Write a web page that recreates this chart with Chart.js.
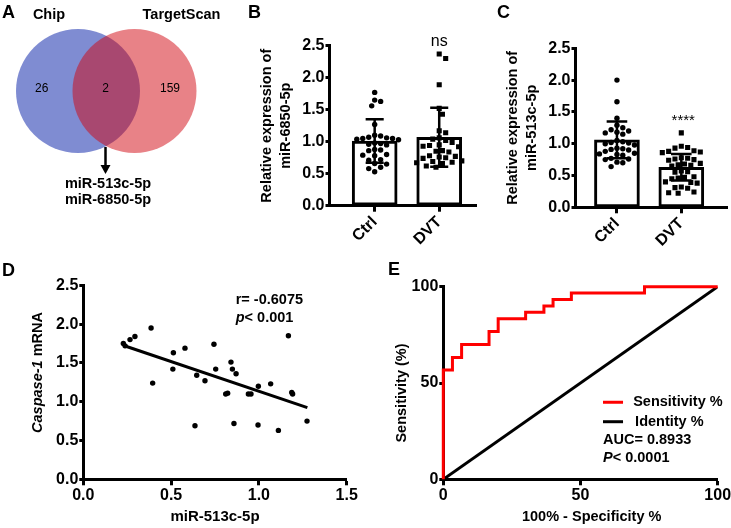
<!DOCTYPE html>
<html>
<head>
<meta charset="utf-8">
<script src="https://cdn.jsdelivr.net/npm/chart.js@4.4.0/dist/chart.umd.min.js"></script>
<style>
  body { margin: 0; background: #fff; }
  #wrap { position: relative; width: 731px; height: 528px; overflow: hidden; font-family: "Liberation Sans", Arial, sans-serif; }
  canvas { position: absolute; }
  .tag { position: absolute; font-weight: bold; font-size: 18px; line-height: 1; color: #000; }
</style>
</head>
<body>
<div id="wrap">
  <canvas id="cA" width="230" height="250" style="left:0;top:0"></canvas>
  <canvas id="cB" width="250" height="250" style="left:230px;top:0"></canvas>
  <canvas id="cC" width="251" height="250" style="left:480px;top:0"></canvas>
  <canvas id="cD" width="370" height="278" style="left:0;top:250px"></canvas>
  <canvas id="cE" width="361" height="278" style="left:370px;top:250px"></canvas>
  <div class="tag" style="left:2px;top:3px">A</div>
  <div class="tag" style="left:248px;top:3px">B</div>
  <div class="tag" style="left:497px;top:3px">C</div>
  <div class="tag" style="left:2px;top:261px">D</div>
  <div class="tag" style="left:388px;top:260px">E</div>
</div>
<script>
// ---- data ----
// A: Venn
const vennSets = ['Chip', 'TargetScan'];
const vennCounts = [26, 2, 159];          // only Chip, both, only TargetScan
const vennHits = ['miR-513c-5p', 'miR-6850-5p'];

// B / C: groups
const groups = ['Ctrl', 'DVT'];

// B: miR-6850-5p
const b6850Ctrl = [1.77, 1.65, 1.63, 1.56, 1.27, 1.10, 1.09, 1.07, 1.06, 1.05, 1.05, 1.04, 1.03, 0.98, 0.97,
                   0.96, 0.95, 0.88, 0.87, 0.86, 0.80, 0.79, 0.78, 0.72, 0.71, 0.66, 0.65, 0.60, 0.58, 0.53];
const b6850Dvt = [2.37, 2.30, 1.89, 1.52, 1.43, 1.17, 1.14, 1.06, 1.04, 1.02, 0.99, 0.95, 0.94, 0.93, 0.92,
                  0.86, 0.85, 0.84, 0.78, 0.77, 0.76, 0.75, 0.74, 0.70, 0.69, 0.68, 0.67, 0.66, 0.62, 0.60];
const b6850Mean = [1.01, 1.07];
const b6850Sd = [0.34, 0.46];

// C: miR-513c-5p
const c513Ctrl = [2.00, 1.66, 1.40, 1.29, 1.25, 1.22, 1.20, 1.18, 1.17, 1.15, 1.05, 1.03, 1.02, 1.01, 1.00, 0.98,
                  0.93, 0.92, 0.91, 0.90, 0.88, 0.85, 0.84, 0.83, 0.82, 0.77, 0.76, 0.75, 0.71, 0.70, 0.64];
const c513Dvt = [1.17, 0.96, 0.94, 0.93, 0.89, 0.88, 0.87, 0.86, 0.78, 0.77, 0.76, 0.75, 0.74, 0.69, 0.68, 0.67,
                 0.66, 0.65, 0.57, 0.56, 0.55, 0.48, 0.47, 0.46, 0.45, 0.40, 0.39, 0.38, 0.32, 0.31, 0.30, 0.24, 0.23, 0.22];
const c513Mean = [1.06, 0.63];
const c513Sd = [0.29, 0.21];

// D: correlation
const dX = [0.228, 0.238, 0.266, 0.294, 0.386, 0.395, 0.513, 0.510, 0.579, 0.636, 0.646, 0.693, 0.744, 0.754, 0.811,
            0.822, 0.841, 0.849, 0.858, 0.870, 0.940, 0.955, 0.997, 0.995, 1.067, 1.111, 1.168, 1.187, 1.192, 1.274];
const dY = [1.75, 1.72, 1.80, 1.84, 1.95, 1.24, 1.63, 1.42, 1.69, 0.69, 1.34, 1.27, 1.74, 1.42, 1.10,
            1.11, 1.51, 1.42, 0.72, 1.36, 1.10, 1.10, 1.20, 0.70, 1.23, 0.63, 1.85, 1.12, 1.10, 0.75];
const fitX = [0.238, 1.276];
const fitY = [1.718, 0.923];

// E: ROC
const rocX = [0, 0, 3.33, 6.67, 16.67, 20, 30, 36.67, 40, 46.67, 73.33, 100];
const rocY = [0, 56.7, 63.3, 70, 76.7, 83.3, 86.7, 90, 93.3, 96.7, 100, 100];
const identX = [0, 100];
const identY = [0, 100];

// ---- helpers ----
const FONT = '"Liberation Sans", Arial, sans-serif';
const tickFont = {family: FONT, size: 16, weight: 'bold'};
const titleFont = {family: FONT, size: 14.5, weight: 'bold', lineHeight: 1.35};
Chart.defaults.font.family = FONT;
Chart.defaults.color = '#000';

// free text, lines and arrows drawn on top of a chart
const notes = {
  id: 'notes',
  afterDraw(chart, args, opts) {
    const ctx = chart.ctx;
    const px = (it, k) => it[k + 'v'] !== undefined ? chart.scales[k].getPixelForValue(it[k + 'v']) : it[k];
    (opts.lines || []).forEach(l => {
      ctx.save();
      ctx.strokeStyle = l.color;
      ctx.lineWidth = l.width || 3;
      ctx.beginPath();
      ctx.moveTo(chart.scales.x.getPixelForValue(l.x0), chart.scales.y.getPixelForValue(l.y));
      ctx.lineTo(chart.scales.x.getPixelForValue(l.x1), chart.scales.y.getPixelForValue(l.y));
      ctx.stroke();
      ctx.restore();
    });
    (opts.items || []).forEach(it => {
      ctx.save();
      ctx.translate(px(it, 'x'), px(it, 'y'));
      if (it.rotate) ctx.rotate(it.rotate);
      ctx.fillStyle = '#000';
      ctx.textBaseline = 'middle';
      ctx.textAlign = 'left';
      const parts = it.parts || [{text: it.text}];
      const fontOf = p => (p.italic ? 'italic ' : '') + (it.bold === false ? 'normal ' : 'bold ') + (it.size || 14.5) + 'px ' + FONT;
      let total = 0;
      parts.forEach(p => { ctx.font = fontOf(p); total += ctx.measureText(p.text).width; });
      let cx = it.align === 'center' ? -total / 2 : 0;
      parts.forEach(p => { ctx.font = fontOf(p); ctx.fillText(p.text, cx, 0); cx += ctx.measureText(p.text).width; });
      ctx.restore();
    });
  }
};

function axis(o) {
  return {
    type: 'linear', min: o.min, max: o.max, offset: false,
    ticks: {stepSize: o.step, callback: o.cb, font: tickFont, color: '#000', padding: o.pad,
            minRotation: o.rot || 0, maxRotation: o.rot || 0, autoSkip: false},
    grid: {drawOnChartArea: false, drawTicks: true, tickLength: o.tl, tickWidth: 3, tickColor: '#000', color: '#000', offset: false},
    border: {display: true, color: '#000', width: 3},
    title: o.title || {display: false},
    afterBuildTicks: o.ticksAt ? (s => { s.ticks = o.ticksAt.map(v => ({value: v})); }) : undefined,
    afterFit: s => {
      if (o.w !== undefined) s.width = o.w;
      if (o.h !== undefined) s.height = o.h;
      s.paddingLeft = s.paddingRight = s.paddingTop = s.paddingBottom = 0;
    }
  };
}

// spread points sideways so they do not overlap (beeswarm)
function swarm(values, center, pxX, pxY, gap) {
  const placed = [];
  const order = values.map((v, i) => i).sort((a, b) => values[b] - values[a]);
  return order.map(i => {
    const v = values[i];
    let off = 0;
    for (let k = 0; k < 80; k++) {
      const cand = (k % 2 ? 1 : -1) * Math.ceil(k / 2) * gap / 2;
      if (placed.every(p => Math.hypot(cand - p.o, (v - p.v) * pxY) >= gap)) { off = cand; break; }
    }
    placed.push({o: off, v});
    return {x: center + off / pxX, y: v};
  });
}

function errBars(mean, sd, cap) {
  return mean.map((m, i) => {
    const g = i + 1, hi = m + sd[i], lo = m - sd[i];
    return {type: 'scatter', showLine: true, borderColor: '#000', borderWidth: 2.5, pointRadius: 0,
            data: [{x: g - cap, y: hi}, {x: g + cap, y: hi}, {x: g, y: hi}, {x: g, y: lo}, {x: g - cap, y: lo}, {x: g + cap, y: lo}]};
  });
}

function dotBar(id, ctrl, dvt, mean, sd, L) {
  const cv = document.getElementById(id);
  const pxX = (cv.width - L.yw - L.right) / (L.xmax - L.xmin);
  const pxY = (cv.height - L.top - L.xh) / 2.5;
  new Chart(cv, {
    type: 'scatter',
    data: {
      datasets: [
        {data: swarm(ctrl, 1, pxX, pxY, 6), pointStyle: 'circle', pointRadius: 2.7, backgroundColor: '#000', borderWidth: 0},
        {data: swarm(dvt, 2, pxX, pxY, 6.5), pointStyle: 'rect', pointRadius: 3.6, backgroundColor: '#000', borderWidth: 0},
        ...errBars(mean, sd, L.cap),
        {type: 'bar', data: mean.map((m, i) => ({x: i + 1, y: m})), backgroundColor: '#fff', borderColor: '#000',
         borderWidth: 3, barThickness: 45, borderSkipped: false}
      ]
    },
    options: {
      responsive: false, animation: false, devicePixelRatio: 1,
      layout: {padding: {top: L.top, right: L.right, left: 0, bottom: 0}},
      plugins: {legend: {display: false}, tooltip: {enabled: false},
                notes: {items: [{text: L.mark, xv: 2 + (L.markDx || 0), yv: L.markY, align: 'center', size: L.markSize, bold: false}]}},
      scales: {
        x: axis({min: L.xmin, max: L.xmax, ticksAt: [1, 2], cb: (v, i) => groups[i], rot: 45, tl: 6, pad: 1, h: L.xh}),
        y: axis({min: 0, max: 2.5, step: 0.5, cb: v => v.toFixed(1), tl: 4, pad: 1, w: L.yw,
                 title: {display: true, text: L.title, font: titleFont, color: '#000', padding: {top: L.tpad, bottom: 0}}})
      }
    },
    plugins: [notes]
  });
}

// ---- A: Venn ----
new Chart(document.getElementById('cA'), {
  type: 'bubble',
  data: {
    datasets: [{
      data: [{x: 78, y: 91, r: 62}, {x: 134.5, y: 91, r: 62}],
      backgroundColor: ['rgba(0,25,165,0.5)', 'rgba(210,5,15,0.5)'],
      borderWidth: 0, hoverRadius: 0, clip: false
    }]
  },
  options: {
    responsive: false, animation: false, devicePixelRatio: 1,
    layout: {padding: 0, autoPadding: false},
    scales: {x: {display: false, min: 0, max: 230}, y: {display: false, min: 0, max: 250, reverse: true}},
    plugins: {
      legend: {display: false}, tooltip: {enabled: false},
      notes: {items: [
        {text: vennSets[0], xv: 49, yv: 15, align: 'center', size: 14.5},
        {text: vennSets[1], xv: 181.5, yv: 15, align: 'center', size: 14.5},
        {text: String(vennCounts[0]), xv: 41.7, yv: 88.3, align: 'center', size: 12, bold: false},
        {text: String(vennCounts[1]), xv: 105.5, yv: 88.3, align: 'center', size: 12, bold: false},
        {text: String(vennCounts[2]), xv: 170, yv: 88.3, align: 'center', size: 12, bold: false},
        {text: vennHits[0], xv: 108, yv: 184, align: 'center', size: 14.5},
        {text: vennHits[1], xv: 108, yv: 199.5, align: 'center', size: 14.5}
      ]}
    }
  },
  plugins: [notes, {
    id: 'arrow',
    afterDraw(chart) {
      const ctx = chart.ctx, x = chart.scales.x.getPixelForValue(105.5);
      const y0 = chart.scales.y.getPixelForValue(147), y1 = chart.scales.y.getPixelForValue(174);
      ctx.save();
      ctx.strokeStyle = '#000'; ctx.fillStyle = '#000'; ctx.lineWidth = 2.5;
      ctx.beginPath(); ctx.moveTo(x, y0); ctx.lineTo(x, y1 - 7); ctx.stroke();
      ctx.beginPath(); ctx.moveTo(x - 5, y1 - 9); ctx.lineTo(x + 5, y1 - 9); ctx.lineTo(x, y1); ctx.closePath(); ctx.fill();
      ctx.restore();
    }
  }]
});

// ---- B and C ----
dotBar('cB', b6850Ctrl, b6850Dvt, b6850Mean, b6850Sd,
  {yw: 99.5, xh: 44.3, top: 45.7, right: 3, xmin: 0.3, xmax: 2.57, cap: 0.14,
   title: ['Relative expression of', 'miR-6850-5p'], tpad: 27, mark: 'ns', markY: 2.57, markSize: 16});
dotBar('cC', c513Ctrl, c513Dvt, c513Mean, c513Sd,
  {yw: 95.5, xh: 42.7, top: 48.3, right: 0, xmin: 0.356, xmax: 2.71, cap: 0.16,
   title: ['Relative expression of', 'miR-513c-5p'], tpad: 23, mark: '****', markY: 1.36, markDx: 0.03, markSize: 15});

// ---- D: scatter with regression ----
new Chart(document.getElementById('cD'), {
  type: 'scatter',
  data: {
    datasets: [
      {data: dX.map((x, i) => ({x, y: dY[i]})), pointRadius: 2.7, backgroundColor: '#000', borderWidth: 0},
      {type: 'line', data: fitX.map((x, i) => ({x, y: fitY[i]})), borderColor: '#000', borderWidth: 3, pointRadius: 0}
    ]
  },
  options: {
    responsive: false, animation: false, devicePixelRatio: 1,
    layout: {padding: {top: 35.3, right: 23.3, left: 0, bottom: 0}},
    plugins: {
      legend: {display: false}, tooltip: {enabled: false},
      notes: {items: [
        {parts: [{text: 'Caspase-1', italic: true}, {text: ' mRNA'}], x: 37.5, y: 122.5, rotate: -Math.PI / 2, align: 'center'},
        {text: 'r= -0.6075', xv: 0.868, yv: 2.31},
        {parts: [{text: 'p', italic: true}, {text: '< 0.001'}], xv: 0.868, yv: 2.08}
      ]}
    },
    scales: {
      x: axis({min: 0, max: 1.5, step: 0.5, cb: v => v.toFixed(1), tl: 6, pad: 1, h: 48.7,
               title: {display: true, text: 'miR-513c-5p', font: {family: FONT, size: 15, weight: 'bold'}, color: '#000', padding: {top: 0, bottom: 2}}}),
      y: axis({min: 0, max: 2.5, step: 0.5, cb: v => v.toFixed(1), tl: 4, pad: 1, w: 83.3})
    }
  },
  plugins: [notes]
});

// ---- E: ROC ----
new Chart(document.getElementById('cE'), {
  type: 'scatter',
  data: {
    datasets: [
      {type: 'line', label: 'Sensitivity %', data: rocX.map((x, i) => ({x, y: rocY[i]})), stepped: 'before',
       borderColor: '#ff0000', borderWidth: 3, pointRadius: 0, clip: false},
      {type: 'line', label: 'Identity %', data: identX.map((x, i) => ({x, y: identY[i]})),
       borderColor: '#000', borderWidth: 3, pointRadius: 0}
    ]
  },
  options: {
    responsive: false, animation: false, devicePixelRatio: 1,
    layout: {padding: {top: 36.7, right: 13.3, left: 0, bottom: 0}},
    plugins: {
      legend: {display: false}, tooltip: {enabled: false},
      notes: {
        lines: [{x0: 58.2, x1: 65.5, y: 40, color: '#ff0000'}, {x0: 58.2, x1: 65.5, y: 29.9, color: '#000'}],
        items: [
          {text: 'Sensitivity %', xv: 69.2, yv: 40},
          {text: 'Identity %', xv: 69.9, yv: 29.9},
          {text: 'AUC= 0.8933', xv: 58.2, yv: 20.4},
          {parts: [{text: 'P', italic: true}, {text: '< 0.0001'}], xv: 58.2, yv: 10.9},
          {text: 'Sensitivity (%)', x: 32, y: 143, rotate: -Math.PI / 2, align: 'center'},
          {text: '100% - Specificity %', x: 221.7, y: 266.7, align: 'center'}
        ]
      }
    },
    scales: {
      x: axis({min: 0, max: 100, step: 50, cb: v => String(v), tl: 6, pad: 1, h: 48.7}),
      y: axis({min: 0, max: 100, step: 50, cb: v => String(v), tl: 4, pad: 1, w: 73.3})
    }
  },
  plugins: [notes]
});
</script>
</body>
</html>
